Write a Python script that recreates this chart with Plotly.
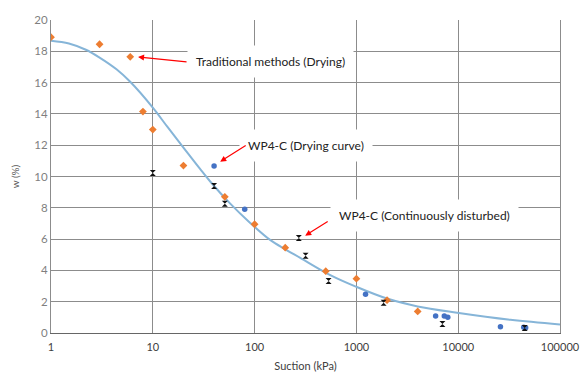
import plotly.graph_objects as go

# Traditional methods (Drying)
trad_suction = [1, 3, 6, 8, 10, 20, 51, 100, 200, 500, 1000, 2000, 4000]
trad_w = [18.9, 18.45, 17.65, 14.15, 13.0, 10.7, 8.7, 6.95, 5.45, 3.95, 3.47, 2.1, 1.38]

# WP4-C (Drying curve)
wp4_suction = [40, 80, 1230, 6000, 7300, 7900, 26000, 44000, 46000]
wp4_w = [10.67, 7.9, 2.48, 1.09, 1.09, 1.0, 0.4, 0.36, 0.33]

# WP4-C (Continuously disturbed)
dist_suction = [10, 40, 51, 272, 317, 533, 1850, 7000, 45000]
dist_w = [10.22, 9.39, 8.26, 6.07, 4.94, 3.32, 1.94, 0.58, 0.32]

# Fitted curve
fit_suction = [1, 1.5, 2.2, 3, 4.4, 6, 10, 14, 20, 29, 37, 57, 90, 142, 200, 281, 554, 1000, 2000, 4000, 9750, 32600, 100000]
fit_w = [18.68, 18.5, 18.1, 17.6, 16.85, 16.05, 14.4, 13.15, 11.85, 10.5, 9.65, 8.3, 7.05, 5.95, 5.35, 4.8, 3.7, 2.95, 2.2, 1.7, 1.3, 0.85, 0.55]

x_ticks = [1, 10, 100, 1000, 10000, 100000]
x_ticktext = ["1", "10", "100", "1000", "10000", "100000"]
y_ticks = [0, 2, 4, 6, 8, 10, 12, 14, 16, 18, 20]

FONT = "Lato"
GRID = "#8c8c8c"

fig = go.Figure()
fig.add_trace(go.Scatter(x=fit_suction, y=fit_w, mode="lines",
                         line=dict(color="#86b5d8", width=2, shape="spline", smoothing=1),
                         showlegend=False, hoverinfo="skip"))
fig.add_trace(go.Scatter(x=trad_suction, y=trad_w, mode="markers",
                         marker=dict(symbol="diamond", size=6, color="#ed7d31"),
                         name="Traditional methods (Drying)", showlegend=False))
fig.add_trace(go.Scatter(x=wp4_suction, y=wp4_w, mode="markers",
                         marker=dict(symbol="circle", size=5.5, color="#4472c4"),
                         name="WP4-C (Drying curve)", showlegend=False))
fig.add_trace(go.Scatter(x=dist_suction, y=dist_w, mode="markers",
                         marker=dict(symbol="hourglass", size=6, color="#111111"),
                         name="WP4-C (Continuously disturbed)", showlegend=False))

ann_font = dict(family=FONT, size=12, color="#222222")
arrow_kw = dict(showarrow=True, arrowhead=2, arrowsize=1, arrowwidth=1.2,
                arrowcolor="#ff0000", text="", xref="x", yref="y")

annotations = [
    dict(x=2.153, y=17.32, text="Traditional methods (Drying)", showarrow=False,
         bgcolor="white", borderpad=8, font=ann_font, xref="x", yref="y"),
    dict(x=2.507, y=11.95, text="WP4-C (Drying curve)", showarrow=False,
         bgcolor="white", borderpad=8, font=ann_font, xref="x", yref="y"),
    dict(x=3.673, y=7.48, text="WP4-C (Continuously disturbed)", showarrow=False,
         bgcolor="white", borderpad=8, font=ann_font, xref="x", yref="y"),
    dict(x=0.855, y=17.64, ax=50, ay=5, **arrow_kw),
    dict(x=1.662, y=10.95, ax=27, ay=-17, **arrow_kw),
    dict(x=2.497, y=6.22, ax=24, ay=-15, **arrow_kw),
]

fig.update_layout(
    width=580, height=372,
    margin=dict(l=51, r=20, t=20, b=39, autoexpand=False),
    paper_bgcolor="white", plot_bgcolor="white",
    font=dict(family=FONT, size=11, color="#595959"),
    annotations=annotations,
    xaxis=dict(type="log", range=[0, 5], tickvals=x_ticks, ticktext=x_ticktext,
               automargin=False, ticklabelstandoff=4,
               showgrid=True, gridcolor=GRID, gridwidth=1,
               showline=True, linecolor="#666666", linewidth=1,
               ticks="", tickfont=dict(size=11, color="#404040"),
               title=dict(text="Suction (kPa)", font=dict(size=11, color="#404040"), standoff=12),
               zeroline=False),
    yaxis=dict(range=[0, 20], tickvals=y_ticks, showgrid=True, gridcolor=GRID, gridwidth=1,
               automargin=False, mirror=True,
               showline=True, linecolor=GRID, linewidth=1, ticks="",
               tickfont=dict(size=11.5, color="#7f7f7f"),
               title=dict(text="w (%)", font=dict(size=10, color="#595959"), standoff=12),
               zeroline=False),
)

fig.write_html("out.html")
